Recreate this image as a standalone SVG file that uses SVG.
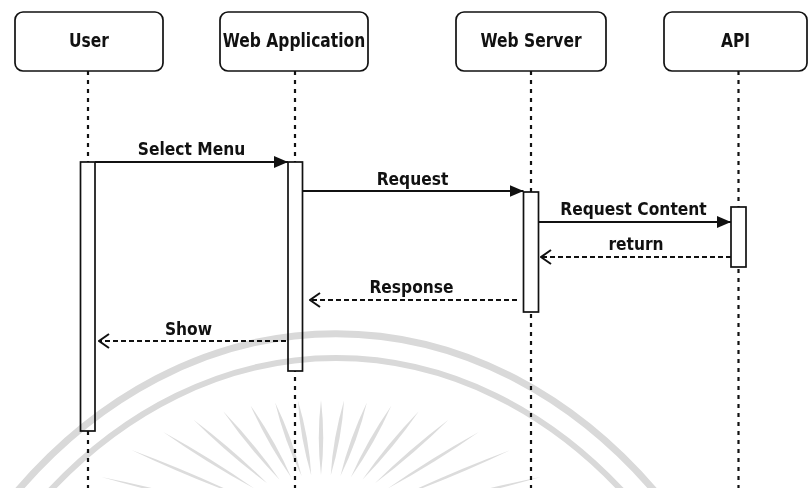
<svg xmlns="http://www.w3.org/2000/svg" xmlns:xlink="http://www.w3.org/1999/xlink" width="810" height="488" viewBox="0 0 810 488">
  <style>
    .box { fill: #ffffff; stroke: #111111; stroke-width: 1.7; }
    .act { fill: #ffffff; stroke: #111111; stroke-width: 1.7; }
    .life { stroke: #111111; stroke-width: 2.2; stroke-dasharray: 4 5; fill: none; }
    .lbl { font-family: "DejaVu Sans", Verdana, sans-serif; font-weight: bold; font-size: 15.5px; fill: #111111; text-anchor: middle; }
    .sync { stroke: #111111; stroke-width: 1.9; fill: none; marker-end: url(#filled); }
    .reply { stroke: #111111; stroke-width: 1.9; stroke-dasharray: 5 3; fill: none; marker-end: url(#open); }
    .wm { mix-blend-mode: multiply; }
    .wm path.arc { fill: none; stroke: #d9d9d9; }
    .wm use { fill: #dcdcdc; }
  </style>
  <defs>
    <marker id="filled" viewBox="0 0 14 12" refX="14" refY="6" markerWidth="14" markerHeight="12" markerUnits="userSpaceOnUse" orient="auto">
      <path d="M0,0 L14,6 L0,12 Z" fill="#111111"/>
    </marker>
    <marker id="open" viewBox="0 0 12 16" refX="11" refY="8" markerWidth="12" markerHeight="16" markerUnits="userSpaceOnUse" orient="auto">
      <path d="M1,1 L11,8 L1,15" fill="none" stroke="#111111" stroke-width="2"/>
    </marker>
    <!-- one tapered ray of the sunburst emblem, pointing up -->
    <path id="ray" d="M0,-130 Q2.4,-92 0,-55 Q-2.4,-92 0,-130 Z"/>
  </defs>

  <rect width="810" height="488" fill="#ffffff"/>

  <!-- lifelines -->
  <g id="lifelines">
    <line class="life" x1="88" y1="71" x2="88" y2="488"/>
    <line class="life" x1="295" y1="71" x2="295" y2="488"/>
    <line class="life" x1="531" y1="71" x2="531" y2="488"/>
    <line class="life" x1="738.5" y1="71" x2="738.5" y2="488"/>
  </g>

  <!-- participants -->
  <g id="user">
    <rect class="box" x="15" y="12" width="148" height="59" rx="8"/>
    <text class="lbl" transform="translate(89,47) scale(1,1.3)">User</text>
  </g>
  <g id="web-application">
    <rect class="box" x="220" y="12" width="148" height="59" rx="8"/>
    <text class="lbl" transform="translate(294,47) scale(1,1.3)">Web Application</text>
  </g>
  <g id="web-server">
    <rect class="box" x="456" y="12" width="150" height="59" rx="8"/>
    <text class="lbl" transform="translate(531,47) scale(1,1.3)">Web Server</text>
  </g>
  <g id="api">
    <rect class="box" x="664" y="12" width="143" height="59" rx="8"/>
    <text class="lbl" transform="translate(735.5,47) scale(1,1.3)">API</text>
  </g>

  <!-- activation bars -->
  <g id="activations">
    <rect class="act" x="80.5" y="162" width="14.5" height="269"/>
    <rect class="act" x="288" y="162" width="14.5" height="209"/>
    <rect class="act" x="523.5" y="192" width="15" height="120"/>
    <rect class="act" x="731" y="207" width="15" height="60"/>
  </g>

  <!-- messages -->
  <g id="connectors">
    <line class="sync" x1="95" y1="162" x2="288" y2="162"/>
    <line class="sync" x1="302.5" y1="191" x2="523.5" y2="191"/>
    <line class="sync" x1="538.5" y1="222" x2="731" y2="222"/>
    <line class="reply" x1="731" y1="257" x2="541" y2="257"/>
    <line class="reply" x1="517" y1="300" x2="310" y2="300"/>
    <line class="reply" x1="286" y1="341" x2="99" y2="341"/>
  </g>

  <g id="message-labels">
    <text class="lbl" transform="translate(191.5,155) scale(1,1.1)">Select Menu</text>
    <text class="lbl" transform="translate(412.5,185) scale(1,1.1)">Request</text>
    <text class="lbl" transform="translate(633.5,215) scale(1,1.1)">Request Content</text>
    <text class="lbl" transform="translate(636,250) scale(1,1.1)">return</text>
    <text class="lbl" transform="translate(411.5,293) scale(1,1.1)">Response</text>
    <text class="lbl" transform="translate(188.5,335) scale(1,1.1)">Show</text>
  </g>

  <!-- faint emblem in the background -->
  <g class="wm">
    <path class="arc" d="M14,495 A469,591 0 0 1 658,495" stroke-width="7"/>
    <path class="arc" d="M46,495 A445,567 0 0 1 626,495" stroke-width="6"/>
    <g transform="translate(321,530) scale(1.85,1)">
      <use xlink:href="#ray" transform="rotate(-66)"/>
      <use xlink:href="#ray" transform="rotate(-52)"/>
      <use xlink:href="#ray" transform="rotate(-41)"/>
      <use xlink:href="#ray" transform="rotate(-32)"/>
      <use xlink:href="#ray" transform="rotate(-24)"/>
      <use xlink:href="#ray" transform="rotate(-17)"/>
      <use xlink:href="#ray" transform="rotate(-11)"/>
      <use xlink:href="#ray" transform="rotate(-5.5)"/>
      <use xlink:href="#ray" transform="rotate(0)"/>
      <use xlink:href="#ray" transform="rotate(5.5)"/>
      <use xlink:href="#ray" transform="rotate(11)"/>
      <use xlink:href="#ray" transform="rotate(17)"/>
      <use xlink:href="#ray" transform="rotate(24)"/>
      <use xlink:href="#ray" transform="rotate(32)"/>
      <use xlink:href="#ray" transform="rotate(41)"/>
      <use xlink:href="#ray" transform="rotate(52)"/>
      <use xlink:href="#ray" transform="rotate(66)"/>
    </g>
  </g>
</svg>
